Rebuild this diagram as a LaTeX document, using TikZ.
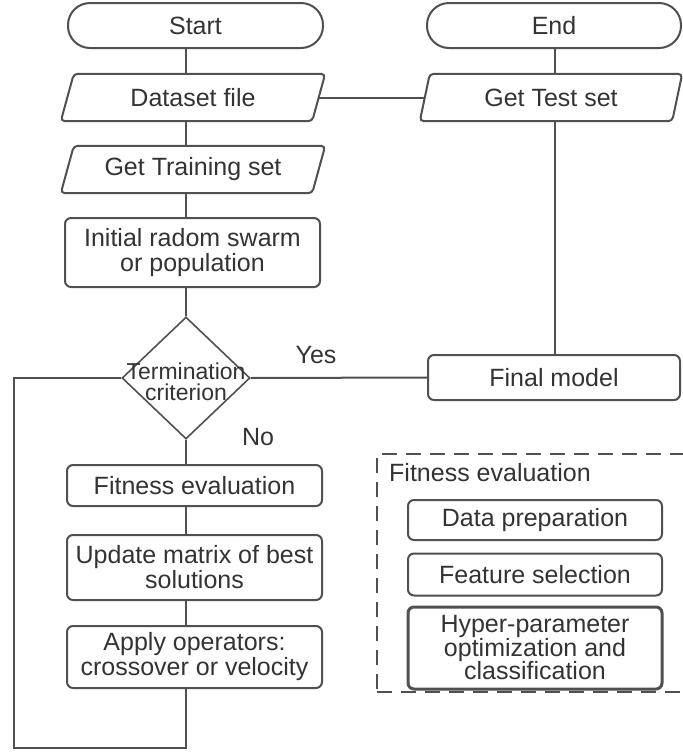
\documentclass[tikz,border=0pt]{standalone}
\usepackage{fontspec}
\setmainfont{Liberation Sans}
\usetikzlibrary{shapes.geometric,calc}
\definecolor{ln}{HTML}{505050}
\definecolor{tx}{HTML}{333333}
\begin{document}
\begin{tikzpicture}[x=1pt,y=-1pt,
  every node/.style={font=\fontsize{25}{25}\selectfont, text=tx},
  conn/.style={draw=ln, line width=2pt},
  terminal/.style={draw=ln, line width=2pt, rectangle, rounded corners=22pt, inner sep=0pt},
  procbox/.style={draw=ln, line width=2pt, rectangle, rounded corners=6pt, inner sep=0pt, align=center},
  iobox/.style={rectangle, inner sep=0pt},
  para/.style={draw=ln, line width=2pt, rounded corners=4pt},
  decision/.style={draw=ln, line width=1.6pt, diamond, inner sep=0pt, minimum width=128pt, minimum height=122pt},
  dashbox/.style={draw=ln, line width=1.6pt, dash pattern=on 15pt off 9pt},
  lbl/.style={inner sep=0pt}
]
\useasboundingbox (0,0) rectangle (683,756);

\coordinate (trunk) at (186,0);
\coordinate (rtrunk) at (555,0);

% terminals
\node[terminal, minimum width=255pt, minimum height=45pt] (start) at (195.5,25.5) {Start};
\node[terminal, minimum width=254pt, minimum height=45pt] (end) at (554,25.5) {End};

% parallelograms
\node[iobox, minimum width=264pt, minimum height=47pt] (data) at (193,97.5) {Dataset file};
\draw[para] ([xshift=13pt]data.north west) -- (data.north east) -- ([xshift=-13pt]data.south east) -- (data.south west) -- cycle;
\node[iobox, minimum width=262pt, minimum height=47pt] (test) at (551,97.5) {Get Test set};
\draw[para] ([xshift=10pt]test.north west) -- (test.north east) -- ([xshift=-10pt]test.south east) -- (test.south west) -- cycle;
\node[iobox, minimum width=264pt, minimum height=47pt] (train) at (193,169.5) {Get Training set};
\draw[para] ([xshift=13pt]train.north west) -- (train.north east) -- ([xshift=-13pt]train.south east) -- (train.south west) -- cycle;

% process boxes
\node[procbox, minimum width=255pt, minimum height=69pt] (init) at (192.5,252.5) {Initial radom swarm\\or population};
\node[decision] (term) at (186,378) {};
\node[lbl, align=center, font=\fontsize{23}{21}\selectfont] (termtxt) at (186,382) {Termination\\criterion};
\node[procbox, minimum width=252pt, minimum height=45pt] (final) at (554,377.5) {Final model};
\node[procbox, minimum width=255pt, minimum height=41pt] (fit) at (194.5,485.5) {Fitness evaluation};
\node[procbox, minimum width=255pt, minimum height=65pt] (upd) at (194.5,567.5) {Update matrix of best\\solutions};
\node[procbox, minimum width=255pt, minimum height=62pt] (apply) at (194.5,657) {Apply operators:\\crossover or velocity};

% labels
\node[lbl] (yes) at (316,355) {Yes};
\node[lbl] (no) at (258,437) {No};

% dashed group
\node[dashbox, rectangle, minimum width=311pt, minimum height=238pt, inner sep=0pt] (grp) at (532.5,573) {};
\node[lbl, anchor=west] (grptitle) at (389,473) {Fitness evaluation};
\node[procbox, minimum width=254pt, minimum height=40pt] (prep) at (535,520) {Data preparation};
\node[procbox, minimum width=254pt, minimum height=42pt] (feat) at (535,574.5) {Feature selection};
\node[procbox, line width=3pt, minimum width=254pt, minimum height=82pt, font=\fontsize{25}{23.5}\selectfont] (hyper) at (535,648) {Hyper-parameter\\optimization and\\classification};

% connectors left trunk
\draw[conn] (start.south -| trunk) -- (data.north -| trunk);
\draw[conn] (data.south -| trunk) -- (train.north -| trunk);
\draw[conn] (train.south -| trunk) -- (init.north -| trunk);
\draw[conn] (init.south -| trunk) -- (term.north);
\draw[conn] (term.south) -- (fit.north -| trunk);
\draw[conn] (fit.south -| trunk) -- (upd.north -| trunk);
\draw[conn] (upd.south -| trunk) -- (apply.north -| trunk);
\coordinate (loopc) at (14,748);
\draw[conn] (apply.south -| trunk) |- (loopc) |- (term.west);

% right side
\draw[conn] ([xshift=-6pt]data.east) -- ([xshift=5pt]test.west);
\draw[conn] (end.south -| rtrunk) -- (test.north -| rtrunk);
\draw[conn] (test.south -| rtrunk) -- (final.north -| rtrunk);
\draw[conn] (term.east) -- (final.west);
\end{tikzpicture}
\end{document}
